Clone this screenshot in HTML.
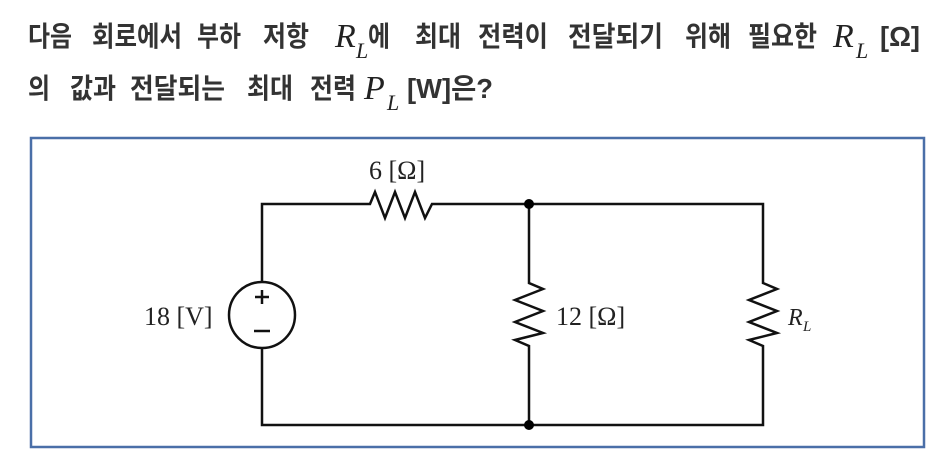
<!DOCTYPE html>
<html><head><meta charset="utf-8"><style>
html,body{margin:0;padding:0;background:#fff;width:950px;height:475px;overflow:hidden}
svg{display:block}
.k{font-family:"Liberation Sans","Noto Sans CJK KR",sans-serif;font-weight:bold;font-size:28px;fill:#333}
.m{font-family:"Liberation Serif","DejaVu Serif",serif;font-style:italic;fill:#222}
.s{font-family:"Liberation Serif","DejaVu Serif",serif;fill:#222;font-size:26px}
</style></head><body>
<svg width="950" height="475" viewBox="0 0 950 475" xmlns="http://www.w3.org/2000/svg">
<g class="k">
<text x="28" y="46" textLength="44" lengthAdjust="spacingAndGlyphs">다음</text>
<text x="92" y="46" textLength="90" lengthAdjust="spacingAndGlyphs">회로에서</text>
<text x="197" y="46" textLength="44" lengthAdjust="spacingAndGlyphs">부하</text>
<text x="263" y="46" textLength="46" lengthAdjust="spacingAndGlyphs">저항</text>
<text x="368" y="46" textLength="22" lengthAdjust="spacingAndGlyphs">에</text>
<text x="415" y="46" textLength="46" lengthAdjust="spacingAndGlyphs">최대</text>
<text x="478" y="46" textLength="70" lengthAdjust="spacingAndGlyphs">전력이</text>
<text x="568" y="46" textLength="95" lengthAdjust="spacingAndGlyphs">전달되기</text>
<text x="685" y="46" textLength="46" lengthAdjust="spacingAndGlyphs">위해</text>
<text x="748" y="46" textLength="69" lengthAdjust="spacingAndGlyphs">필요한</text>
<text x="880" y="46" textLength="40" lengthAdjust="spacingAndGlyphs">[Ω]</text>
<text x="28" y="98" textLength="22" lengthAdjust="spacingAndGlyphs">의</text>
<text x="70" y="98" textLength="46" lengthAdjust="spacingAndGlyphs">값과</text>
<text x="130" y="98" textLength="95" lengthAdjust="spacingAndGlyphs">전달되는</text>
<text x="247" y="98" textLength="46" lengthAdjust="spacingAndGlyphs">최대</text>
<text x="310" y="98" textLength="46" lengthAdjust="spacingAndGlyphs">전력</text>
<text x="407" y="98" textLength="86" lengthAdjust="spacingAndGlyphs">[W]은?</text>
</g>
<g class="m">
<text x="335" y="47" font-size="34">R</text><text x="356" y="58" font-size="22">L</text>
<text x="833" y="47" font-size="34">R</text><text x="856" y="58" font-size="22">L</text>
<text x="364" y="99" font-size="34">P</text><text x="387" y="110" font-size="22">L</text>
</g>
<rect x="31" y="138" width="893" height="309" fill="none" stroke="#4a6fa8" stroke-width="2.5"/>
<g fill="none" stroke="#111" stroke-width="2.5" stroke-linejoin="miter">
<path d="M262 282 V204 H370 L375 192 L385 218 L395 192 L405 218 L415 192 L425 218 L432 204 H763 V283 L777 289 L749 300 L777 311 L749 322 L777 333 L749 340 L763 346 V425 H262 V348"/>
<path d="M529 204 V283 L543 289 L515 300 L543 311 L515 322 L543 333 L515 340 L529 346 V425"/>
<circle cx="262" cy="315" r="33"/>
</g>
<g stroke="#111" stroke-width="2.5">
<line x1="262" y1="290" x2="262" y2="304"/><line x1="255" y1="297" x2="269" y2="297"/>
<line x1="254" y1="331" x2="270" y2="331"/>
</g>
<circle cx="529" cy="204" r="5" fill="#000"/>
<circle cx="529" cy="425" r="5" fill="#000"/>
<text class="s" x="369" y="179">6 [Ω]</text>
<text class="s" x="144" y="325">18 [V]</text>
<text class="s" x="556" y="325">12 [Ω]</text>
<text class="m" x="788" y="325" font-size="24">R</text><text class="m" x="803" y="331" font-size="15">L</text>
</svg>
</body></html>
